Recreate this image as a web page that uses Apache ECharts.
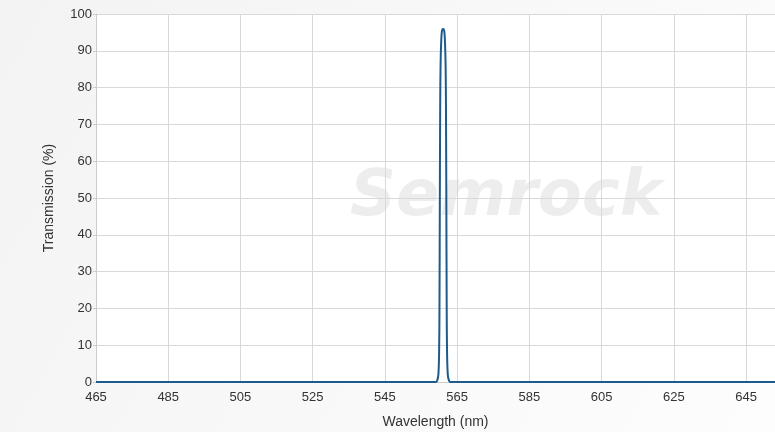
<!DOCTYPE html>
<html>
<head>
<meta charset="utf-8">
<script src="https://cdn.jsdelivr.net/npm/echarts@6/dist/echarts.min.js"></script>
<style>
  html, body { margin: 0; padding: 0; }
  #chart { width: 775px; height: 432px; }
</style>
</head>
<body>
<div id="chart"></div>
<script>
//波长(nm)
var wavelength = [465, 559.1, 559.5, 559.8, 560.0, 560.1, 560.2, 560.3, 560.4, 560.6, 560.8, 561.1,
    561.4, 561.6, 561.8, 561.9, 562.0, 562.1, 562.2, 562.4, 562.7, 563.1, 653];
//透过率(%)
var transmission = [0, 0, 0.5, 2, 8, 20, 50, 75, 86, 93, 95.5, 95.9,
    95.5, 93, 86, 75, 50, 20, 8, 2, 0.5, 0, 0];

var seriesData = wavelength.map(function (w, i) {
    return [w, transmission[i]];
});

var chart = echarts.init(document.getElementById('chart'));
var option = {
    backgroundColor: {
        type: 'linear', x: 0, y: 0, x2: 1, y2: 1,
        colorStops: [{ offset: 0, color: '#f3f3f3' }, { offset: 1, color: '#fdfdfd' }]
    },
    textStyle: { fontFamily: 'Liberation Sans, Arial, sans-serif' },
    grid: {
        left: 96,
        top: 14,
        right: 0,
        bottom: 50,
        outerBoundsMode: 'none',
        show: true,
        backgroundColor: '#fff',
        borderWidth: 0
    },
    graphic: [{
        type: 'text',
        left: 350,
        top: 166,
        z: 0,
        silent: true,
        style: {
            text: 'Semrock',
            font: 'italic bold 64px DejaVu Sans, sans-serif',
            fill: 'rgba(0,0,0,0.07)'
        }
    }],
    xAxis: {
        type: 'value',
        min: 465,
        max: 653,
        interval: 20,
        name: 'Wavelength (nm)',
        nameLocation: 'middle',
        nameGap: 33,
        nameTextStyle: { color: '#333', fontSize: 14 },
        axisLine: { lineStyle: { color: '#ccc' } },
        axisTick: { show: false },
        axisLabel: { color: '#333', fontSize: 13, margin: 9, showMaxLabel: false },
        splitLine: { show: true, lineStyle: { color: '#d9d9d9' } }
    },
    yAxis: {
        type: 'value',
        min: 0,
        max: 100,
        interval: 10,
        name: 'Transmission (%)',
        nameLocation: 'middle',
        nameGap: 40,
        nameTextStyle: { color: '#333', fontSize: 14 },
        axisLine: { show: true, lineStyle: { color: '#ccc' } },
        axisTick: { show: true, length: 3, lineStyle: { color: '#ccc' } },
        axisLabel: { color: '#333', fontSize: 13, margin: 4 },
        splitLine: { show: true, lineStyle: { color: '#d9d9d9' } }
    },
    series: [{
        type: 'line',
        data: seriesData,
        showSymbol: false,
        smooth: 0.3,
        z: 3,
        lineStyle: { color: '#1d5b8c', width: 2 }
    }]
};
chart.setOption(option);
</script>
</body>
</html>
